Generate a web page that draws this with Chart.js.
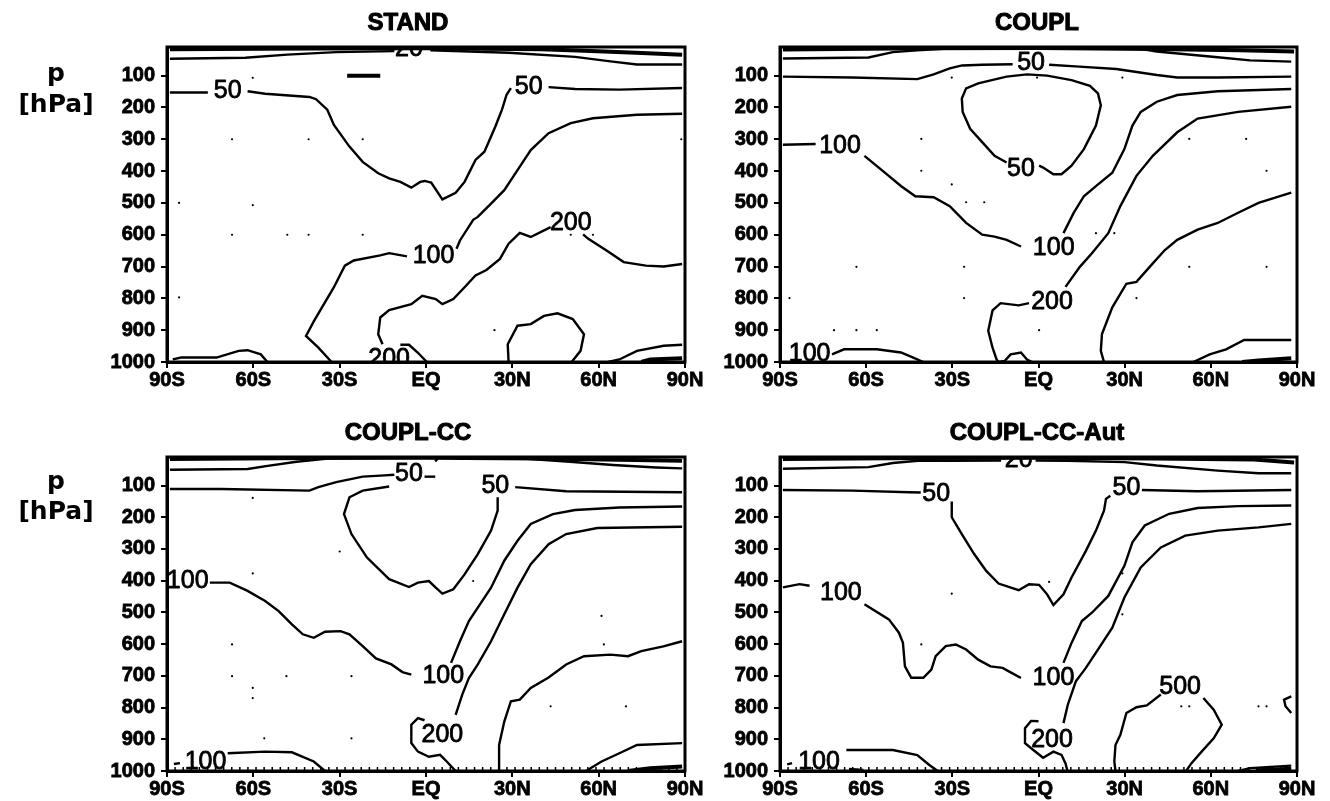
<!DOCTYPE html>
<html>
<head>
<meta charset="utf-8">
<script src="https://cdn.jsdelivr.net/npm/chart.js@4/dist/chart.umd.min.js"></script>
<style>
html,body{margin:0;padding:0;background:#fff;width:1330px;height:801px;overflow:hidden;position:relative}
canvas{position:absolute;left:0;top:0}
</style>
</head>
<body>
<canvas id="c0" width="1330" height="801"></canvas>
<canvas id="c1" width="1330" height="801"></canvas>
<canvas id="c2" width="1330" height="801"></canvas>
<canvas id="c3" width="1330" height="801"></canvas>
<script>
// ---------- axes ----------
const latTicks = [-90, -60, -30, 0, 30, 60, 90];
const latLabels = ['90S', '60S', '30S', 'EQ', '30N', '60N', '90N'];
const pTicks = [100, 200, 300, 400, 500, 600, 700, 800, 900, 1000];
const panelTitles = ['STAND', 'COUPL', 'COUPL-CC', 'COUPL-CC-Aut'];

// ---------- STAND : contour segments [lat, p] ----------
const standThick = [
  [[-89,17],[-40,15],[0,14],[40,17],[55,22],[73,28],[89,34]],
  [[-27.4,100],[-15.9,100]],
  [[74.8,1000],[77.9,992],[89,988]]
];
const standThin = [
  [[-89,47],[-62.8,44],[-48.2,34],[-31.2,26],[-11,23]],
  [[1.5,20],[28.7,28],[51.8,41],[64.1,55],[73.3,65],[89,65]],
  [[-89,153],[-75.8,153]],
  [[-62,149],[-55.9,157],[-40.5,167],[-38.2,174],[-34.3,207],[-32,255],[-26.6,323],[-22,371],[-16.6,407],[-12.8,423],[-8.9,434],[-5.1,452],[-2,434],[-0.5,431],[1.8,436],[5.7,489],[10.3,468],[13.4,434],[17.2,365],[20.3,339],[24.1,260],[26.4,207],[28,160],[29.5,139]],
  [[42.6,136],[51.8,142],[67.2,144],[89,139]],
  [[89,220],[73.3,223],[58,234],[50.3,249],[42.6,281],[36.4,334],[31.8,397],[27.2,460],[22.6,502],[18,544],[16.4,553],[11.8,618],[10.6,644]],
  [[-6.6,668],[-12.8,658],[-15.9,665],[-25.1,681],[-28.2,697],[-32,765],[-38.9,871],[-41.7,918],[-37.4,955],[-32.8,1000]],
  [[89,692],[82.6,700],[76.4,697],[68.7,686],[62.6,649],[56.4,613],[54.6,599]],
  [[43.3,576],[36.4,607],[32.6,594],[28.7,628],[25.7,676],[21,711],[17.2,728],[13.4,765],[9.5,802],[5.7,818],[3.4,802],[-1.3,792],[-5.1,818],[-12.8,837],[-15.9,860],[-16.6,913],[-15.1,944]],
  [[-8.9,946],[-5.9,946],[-2.8,971],[0.3,1000]],
  [[28.7,1000],[28.4,944],[31.8,886],[36.4,881],[41,855],[45.7,847],[51,865],[54.9,913],[53.7,965],[50.6,1000]],
  [[-88,992],[-85.1,986],[-72.8,986],[-65.1,965],[-62,963],[-57.4,976],[-55.1,1000]],
  [[63.3,1000],[67.2,992],[73.3,965],[82.6,949],[89,946]]
];
const standLabels = [['20',-5.9,17],['50',-68.9,149],['50',35.7,136],['100',2.6,668],['200',50.3,563],['200',-12.8,990]];
const standDots = [[-60.2,107],[-67.4,300],[-40.8,300],[-22,300],[88.7,300],[-85.8,500],[-60.2,507],[-67.4,600],[-48.2,600],[-40.8,600],[-22,600],[50.3,600],[58,600],[-85.8,797],[23.8,900]];

// ---------- COUPL ----------
const couplThick = [
  [[-89,18],[-40,14],[0,13],[40,16],[70,20],[89,24]],
  [[70.9,1000],[76.6,995],[88,988]]
];
const couplThin = [
  [[-89,46],[-59.2,43],[-50.7,26],[-42.2,20],[-30,14]],
  [[35,15],[41.2,24],[62.4,42],[73.7,52],[88,56]],
  [[-89,103],[-64.8,106],[-42.2,111],[-36.5,96],[-30.9,77],[-26.6,68],[-19.6,66],[-9,64]],
  [[3.7,66],[12.9,71],[27.1,79],[41.2,98],[48.3,106],[62.4,106],[88,103]],
  [[0.2,383],[1.6,389],[5.2,410],[8,410],[11.5,383],[15.8,331],[20,257],[21.7,193],[20.7,156],[17.9,132],[11.5,114],[3,100],[-4,96],[-11.1,103],[-21,124],[-25.2,140],[-26.7,172],[-26.4,214],[-23.8,267],[-19.6,309],[-15.3,352],[-11.1,373]],
  [[-89,317],[-77.6,315]],
  [[-60.6,352],[-53.5,405],[-47.9,447],[-42.9,479],[-36.5,482],[-30.9,510],[-25.2,563],[-19.6,600],[-15.3,606],[-11.1,616],[-6.1,637]],
  [[8.7,595],[12.2,532],[15.8,479],[20,447],[25.7,405],[29.9,331],[32.7,257],[35.6,214],[41.2,182],[48.3,161],[62.4,149],[88,142]],
  [[9.4,764],[14.4,701],[18.6,658],[24.3,595],[28.5,510],[34.1,415],[39.8,352],[48.3,278],[55.4,235],[69.5,214],[88,198]],
  [[-3.3,815],[-6.9,822],[-13.2,815],[-16,838],[-17.5,902],[-16,955],[-14.6,992],[-13.9,1000],[-11.8,997],[-9.7,976],[-6.1,970],[-4,992],[-2.3,1000]],
  [[22.8,1000],[21.7,965],[22.1,912],[25.7,828],[30.6,754],[34.1,748],[39.8,690],[44,648],[48.3,616],[55.4,584],[62.4,563],[69.5,531],[76.6,500],[88,468]],
  [[-71.9,976],[-67.7,960],[-56.3,960],[-47.9,970],[-43.6,986],[-40.1,1000]],
  [[53.9,1000],[59.6,976],[65.3,960],[71.6,931],[88,931]]
];
const couplLabels = [['50',-2.6,61],['50',-6.1,394],['100',-69.1,320],['100',5.3,643],['200',4.7,812],['100',-79.7,976]];
const couplDots = [[-30.2,106],[-0.5,106],[29.2,106],[-40.8,299],[52.5,299],[72.3,299],[-40.8,399],[-30.2,442],[79.4,399],[-25.2,498],[-18.9,498],[20,595],[26.4,595],[-63.4,701],[-25.9,701],[52.5,701],[79.4,701],[-86.7,799],[-25.9,799],[34.1,799],[-71.2,900],[-63.4,900],[-56.3,900],[0.2,900]];

// ---------- COUPL-CC ----------
const ccThick = [
  [[-89,16],[-40,13],[0,12],[40,15],[89,22]],
  [[70.2,1000],[77.9,991],[89,986]]
];
const ccThin = [
  [[-89,50],[-62,48],[-55,38],[-45,25],[-35,16]],
  [[35,16],[50,25],[65,35],[80,43],[89,46]],
  [[-89,111],[-71.2,111],[-40.5,116],[-37.4,105],[-31.2,89],[-22,72],[-14.3,68],[-11,66]],
  [[-0.5,72],[3.2,72]],
  [[3.2,24],[4.2,14]],
  [[-12.8,103],[-22,116],[-26.6,137],[-28.5,190],[-25.9,253],[-20.5,327],[-12.8,395],[-5.9,420],[-2.8,406],[1,401],[3.4,422],[5.7,441],[9.5,427],[13.4,380],[18,316],[22.6,242],[24.9,179],[24.9,137]],
  [[31,105],[48.7,118],[89,121]],
  [[-75.1,406],[-68.2,406],[-62,432],[-55.9,464],[-51.2,496],[-46.6,538],[-42.8,569],[-39,580],[-35.1,561],[-29.7,559],[-26.6,569],[-22,606],[-17.4,645],[-12,664],[-8.2,688],[-5.1,696]],
  [[8.7,659],[11.8,591],[14.9,527],[18,485],[22.6,422],[27.2,337],[31.8,274],[36.4,221],[44.1,190],[51.8,177],[67.2,169],[89,166]],
  [[10.3,823],[12.6,759],[14.9,707],[18,664],[22.6,591],[27.2,506],[31.8,422],[36.4,348],[42.6,285],[48.7,253],[59.5,234],[89,230]],
  [[-0.5,840],[-2.8,833],[-5.1,854],[-5.1,912],[-2.8,939],[1,955],[4.9,949],[7.2,970],[10.3,1000]],
  [[25.4,1000],[25.4,918],[27.2,844],[29.5,780],[32.6,775],[36.4,738],[42.6,705],[48.7,664],[54.9,638],[64.1,633],[70.2,638],[74.8,622],[82.5,607],[89,591]],
  [[-87.6,978],[-85.5,975]],
  [[-68.9,944],[-55.9,939],[-46.6,941],[-39,970],[-35.1,1000]],
  [[55.6,1000],[61,970],[67.2,944],[73.3,918],[89,912]]
];
const ccLabels = [['50',-5.9,65],['50',24.1,103],['100',-82.8,401],['100',6,701],['200',5.7,886],['100',-76.6,973]];
const ccDots = [[-60.2,139],[-30,308],[-60.2,377],[16.4,401],[61,511],[-67.4,601],[61.8,601],[-67.4,701],[-48.5,701],[-25.9,701],[-60.2,738],[-60.2,770],[43.3,796],[69.5,796],[-56.2,897],[-25.9,897]];

// ---------- COUPL-CC-Aut ----------
const autThick = [
  [[-89,16],[-40,13],[0,12],[40,15],[75,18],[89,27]],
  [[-66,996],[-61,999]],
  [[76,998],[88,993]]
];
const autThin = [
  [[-89,47],[-59.2,42],[-50.7,29],[-42,22],[-30,22],[-13,21]],
  [[-1,21],[10,22],[30,26],[41.2,37],[62.4,53],[76.6,61],[88,61]],
  [[-89,114],[-64.8,116],[-45,121],[-41,122]],
  [[-30.2,150],[-30.2,200],[-26.7,253],[-22.4,316],[-18.2,369],[-13.9,409],[-6.9,430],[-3.3,411],[0.2,413],[3,443],[5.2,477],[8.7,443],[11.5,390],[16.5,306],[20,242],[22.8,179],[23.5,142],[25,132]],
  [[36,114],[55.4,118],[88,114]],
  [[-89,421],[-83.2,411],[-79.7,416]],
  [[-60.6,474],[-52.1,522],[-48.6,564],[-47.2,596],[-46.5,670],[-44.3,706],[-40.1,706],[-37.3,680],[-35.8,638],[-32.3,606],[-28.8,601],[-25.2,617],[-21,649],[-16.7,670],[-12.5,675],[-9.7,689],[-6.1,707]],
  [[8.7,659],[11.5,596],[15.1,527],[18.6,501],[24.3,448],[29.9,353],[32.7,279],[37,226],[45.5,189],[55.4,171],[69.5,165],[88,163]],
  [[8.7,849],[10.2,791],[13,717],[16.5,675],[20,627],[25.7,548],[29.9,453],[35.6,358],[42.6,295],[51.1,258],[62.4,242],[76.6,232],[88,221]],
  [[0,843],[-2.6,842],[-4.7,865],[-4.7,912],[-1.9,933],[1.6,958],[5.2,939],[8,949],[9.4,976],[10.1,1000]],
  [[42.6,759],[37.7,793],[34.1,799],[30.6,817],[28.5,886],[26.8,918],[26.4,970],[26.8,1000]],
  [[57.4,770],[61,807],[63.8,854],[61,897],[56.8,939],[53.2,976],[51.4,1000]],
  [[88,765],[85.5,775],[86,796],[88,817]],
  [[-87.5,979],[-85.8,975]],
  [[-66.9,934],[-50.7,934],[-42.2,950],[-38,981],[-35.1,1000]],
  [[69.5,1000],[73.7,991],[88,983]]
];
const autLabels = [['20',-6.9,20],['50',-35.6,126],['50',30.6,107],['100',-68.8,438],['100',5.2,707],['200',4.7,904],['500',49.3,736],['100',-76.4,972]];
const autDots = [[3.7,404],[-30.2,441],[29.2,377],[29.2,506],[-40.8,601],[49.7,796],[52.5,796],[76.6,796],[79.4,796]];

// ---------- layout / style (not data) ----------
const W = 1330, H = 801, Y_W = 60, X_H = 40;
const panels = [
  {id:'c0', title:panelTitles[0], thin:standThin, thick:standThick, labels:standLabels, dots:standDots, frame:[167,47,685,362], titleX:408, ylab:[81,112], minor:false},
  {id:'c1', title:panelTitles[1], thin:couplThin, thick:couplThick, labels:couplLabels, dots:couplDots, frame:[780,47,1297,362], titleX:1037, ylab:null, minor:false},
  {id:'c2', title:panelTitles[2], thin:ccThin, thick:ccThick, labels:ccLabels, dots:ccDots, frame:[167,457,685,771], titleX:408, ylab:[489,519], minor:true},
  {id:'c3', title:panelTitles[3], thin:autThin, thick:autThick, labels:autLabels, dots:autDots, frame:[780,457,1297,771], titleX:1037, ylab:null, minor:true}
];

function toPts(seg){ return seg.map(([x,y]) => ({x, y})); }

function heavyText(ctx, t, x, y, w){
  ctx.lineWidth = w; ctx.lineJoin = 'round';
  ctx.strokeText(t, x, y); ctx.fillText(t, x, y);
}

function makeDeco(def){
  return {
    id:'deco',
    afterDatasetsDraw(chart){
      const {ctx, chartArea:a, scales:{x, y}} = chart;
      ctx.save();
      ctx.beginPath(); ctx.rect(a.left, a.top, a.right-a.left, a.bottom-a.top); ctx.clip();
      ctx.fillStyle = '#000'; ctx.strokeStyle = '#000';
      ctx.font = '25px "Liberation Sans", Arial, sans-serif';
      ctx.textAlign = 'center'; ctx.textBaseline = 'middle';
      def.labels.forEach(([t, lat, p]) => heavyText(ctx, t, x.getPixelForValue(lat), y.getPixelForValue(p), 0.8));
      if (def.minor){
        ctx.lineWidth = 1.5;
        for (let v = -90; v <= 90; v += 2.8125){
          const px = x.getPixelForValue(v);
          ctx.beginPath(); ctx.moveTo(px, a.bottom); ctx.lineTo(px, a.bottom-4); ctx.stroke();
        }
      }
      ctx.restore();
    },
    afterDraw(chart){
      const {ctx, chartArea:a} = chart;
      ctx.save();
      ctx.strokeStyle = '#000'; ctx.lineWidth = 3;
      ctx.strokeRect(a.left, a.top, a.right-a.left, a.bottom-a.top);
      ctx.fillStyle = '#000';
      ctx.textAlign = 'center'; ctx.textBaseline = 'middle';
      ctx.font = 'bold 24px "Liberation Sans", Arial, sans-serif';
      heavyText(ctx, def.title, def.titleX, a.top - 24, 1);
      if (def.ylab){
        ctx.textBaseline = 'alphabetic';
        ctx.font = 'bold 25px "DejaVu Sans", sans-serif';
        ctx.fillText('p', 56, def.ylab[0]);
        ctx.fillText('[hPa]', 56, def.ylab[1]);
      }
      ctx.restore();
    }
  };
}

panels.forEach(def => {
  const f = def.frame;
  const datasets = [];
  def.thin.forEach(seg => datasets.push({data:toPts(seg), showLine:true, borderColor:'#000', borderWidth:2.4, pointRadius:0, tension:0, fill:false}));
  def.thick.forEach(seg => datasets.push({data:toPts(seg), showLine:true, borderColor:'#000', borderWidth:4, pointRadius:0, tension:0, fill:false}));
  datasets.push({data:toPts(def.dots), showLine:false, pointRadius:1.1, pointBorderWidth:0, backgroundColor:'#000', borderColor:'#000'});
  const tickFont = {family:'"Liberation Sans", Arial, sans-serif', weight:'bold', size:20};
  new Chart(document.getElementById(def.id), {
    type:'scatter',
    data:{datasets},
    options:{
      responsive:false, animation:false, devicePixelRatio:1, events:[],
      layout:{padding:{left:f[0]-Y_W, top:f[1], right:W-f[2], bottom:H-f[3]-X_H}},
      plugins:{legend:{display:false}, tooltip:{enabled:false}, title:{display:false}},
      scales:{
        x:{type:'linear', min:-90, max:90,
           afterBuildTicks:s => { s.ticks = latTicks.map(v => ({value:v})); },
           afterFit:s => { s.height = X_H; },
           ticks:{callback:(v,i) => latLabels[i], font:tickFont, color:'#000', padding:0, maxRotation:0, autoSkip:false, textStrokeColor:'#000', textStrokeWidth:0.8},
           grid:{drawOnChartArea:false, drawTicks:true, tickLength:6, color:'#000', lineWidth:2},
           border:{display:true, color:'#000', width:3}},
        y:{type:'linear', min:10, max:1000, reverse:true,
           afterBuildTicks:s => { s.ticks = pTicks.map(v => ({value:v})); },
           afterFit:s => { s.width = Y_W; },
           ticks:{callback:v => String(v), font:tickFont, color:'#000', padding:6, autoSkip:false, textStrokeColor:'#000', textStrokeWidth:0.8},
           grid:{drawOnChartArea:false, drawTicks:true, tickLength:6, color:'#000', lineWidth:2},
           border:{display:true, color:'#000', width:3}}
      }
    },
    plugins:[makeDeco(def)]
  });
});
</script>
</body>
</html>
